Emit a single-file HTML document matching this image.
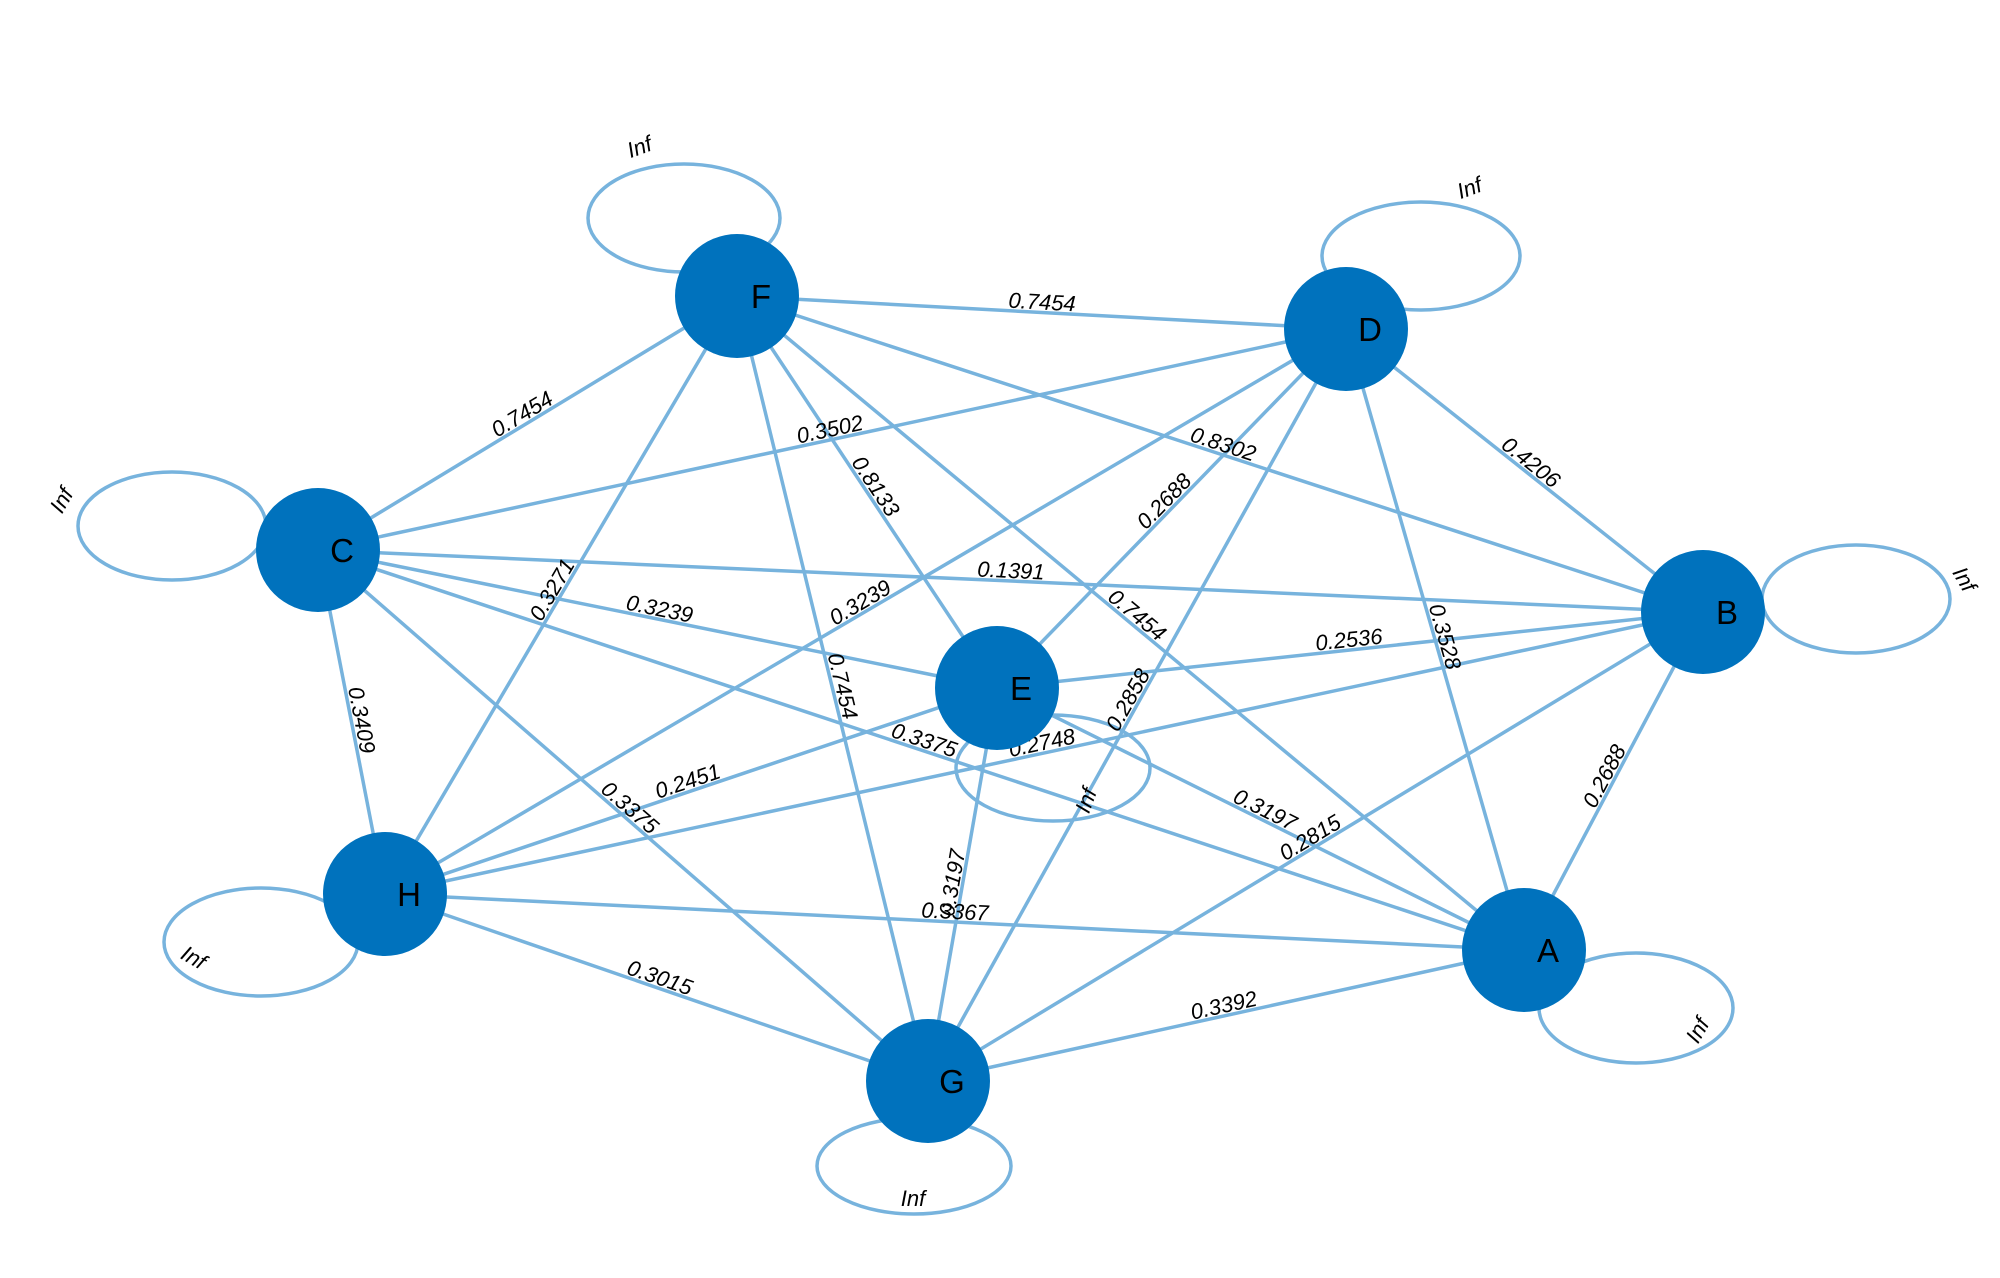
<!DOCTYPE html>
<html><head><meta charset="utf-8"><style>
html,body{margin:0;padding:0;background:#fff;}
svg{display:block;}
text{font-family:"Liberation Sans",Arial,sans-serif;}
</style></head><body>
<svg id="g" width="2000" height="1278" viewBox="0 0 2000 1278" xmlns="http://www.w3.org/2000/svg"></svg>
<script>
const N={F:[737,296],D:[1346,329],C:[318,550],B:[1703,612],E:[997,688],H:[385,894],A:[1524,950],G:[928,1081]};
const E=[["F","D","0.7454"],["F","C","0.7454"],["F","H","0.3271"],["F","G","0.7454"],["F","E","0.8133"],["F","A","0.7454"],["F","B","0.8302"],
["C","D","0.3502"],["C","B","0.1391"],["C","E","0.3239"],["C","A","0.3375"],["C","G","0.3375"],["C","H","0.3409"],
["D","H","0.3239"],["D","E","0.2688"],["D","G","0.2858"],["D","A","0.3528"],["D","B","0.4206"],
["E","B","0.2536"],["E","H","0.2451"],["E","G","0.3197"],["E","A","0.3197"],["H","B","0.2748"],["G","B","0.2815"],
["H","A","0.3367"],["H","G","0.3015"],["G","A","0.3392"],["B","A","0.2688"]];
const L=[[684,218,96,54,642,154,-20],[1421,256,99,54,1472,195,-20],[172,526,94,54,68,504,-60],[1856,599,94,54,1958,583,60],
[1053,768,97,53,1093,803,-70],[261,942,97,54,190,964,30],[1636,1008,97,55,1704,1034,-60],[914,1166,97,48,913,1206,0]];
let s="";const col="#77b3dd";
for(const l of L){s+=`<ellipse cx="${l[0]}" cy="${l[1]}" rx="${l[2]}" ry="${l[3]}" fill="none" stroke="${col}" stroke-width="3.5"/>`;}
for(const e of E){const a=N[e[0]],b=N[e[1]];s+=`<line x1="${a[0]}" y1="${a[1]}" x2="${b[0]}" y2="${b[1]}" stroke="${col}" stroke-width="3.5"/>`;}
for(const e of E){const a=N[e[0]],b=N[e[1]];const mx=(a[0]+b[0])/2,my=(a[1]+b[1])/2;
let ang=Math.atan2(b[1]-a[1],b[0]-a[0])*180/Math.PI;if(ang>90)ang-=180;if(ang<=-90)ang+=180;
s+=`<text x="0" y="-3" font-size="22" font-style="italic" text-anchor="middle" transform="translate(${mx},${my}) rotate(${ang.toFixed(1)})">${e[2]}</text>`;}
for(const l of L){s+=`<text x="0" y="0" font-size="22" font-style="italic" text-anchor="middle" transform="translate(${l[4]},${l[5]}) rotate(${l[6]})">Inf</text>`;}
for(const k in N){const p=N[k];s+=`<circle cx="${p[0]}" cy="${p[1]}" r="62" fill="#0072bd"/><text x="${p[0]+24}" y="${p[1]+12}" font-size="33" text-anchor="middle" fill="#000">${k}</text>`;}
document.getElementById("g").innerHTML=s;
</script>
</body></html>
